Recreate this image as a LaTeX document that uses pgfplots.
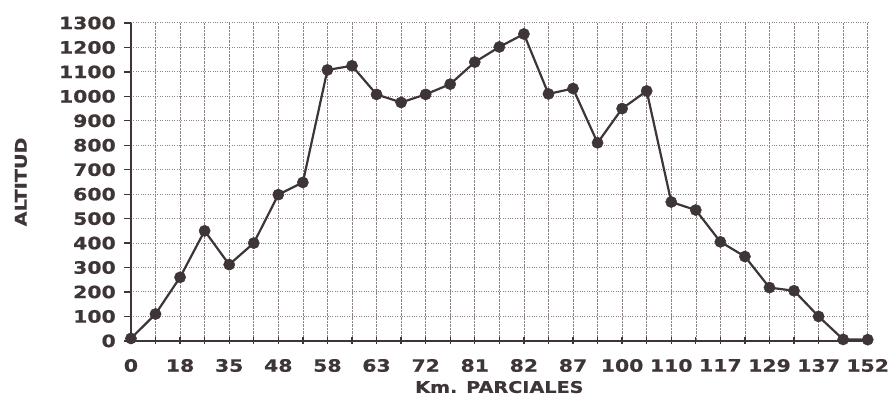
\documentclass[border=0pt]{standalone}
\usepackage{fontspec}
\setmainfont{DejaVu Sans}[BoldFont={DejaVu Sans Bold}, BoldFeatures={FakeStretch=1.2, FakeBold=0.6}]
\usepackage{pgfplots}
\pgfplotsset{compat=1.18}
\definecolor{ink}{RGB}{62,54,54}
\definecolor{gridc}{RGB}{140,132,132}
\begin{document}
\begin{tikzpicture}
\begin{axis}[
  scale only axis,
  width=737pt, height=318pt,
  xmin=0, xmax=30, ymin=0, ymax=1300,
  clip=false,
  axis x line=bottom, axis y line=left,
  axis line style={-, ink, line width=1.6pt},
  xtick={0,...,30},
  xticklabels={0,{},18,{},35,{},48,{},58,{},63,{},72,{},81,{},82,{},87,{},100,{},110,{},117,{},129,{},137,{},152},
  ytick={0,100,...,1300},
  /pgf/number format/assume math mode=true,
  /pgf/number format/set thousands separator={},
  tick label style={font=\fontsize{17}{19}\selectfont\bfseries, text=ink},
  xticklabel style={anchor=north, inner sep=0pt, yshift=-11pt},
  yticklabel style={anchor=east, inner sep=0pt, xshift=-8pt},
  major tick length=7pt,
  tick align=outside,
  xtick style={ink, line width=1.3pt, yshift=3.5pt},
  ytick style={ink, line width=1.3pt},
  grid=major,
  x grid style={gridc, densely dotted, line width=0.6pt},
  y grid style={gridc, dotted, line width=1pt},
  xlabel={Km. PARCIALES},
  ylabel={ALTITUD},
  label style={font=\fontsize{16}{18}\selectfont\bfseries, text=ink},
  xlabel style={at={(axis description cs:0.5,-0.1635)}, anchor=base},
  ylabel style={at={(axis description cs:-0.1493,0.5)}, anchor=center, rotate=0},
]
\addplot[ink, line width=2.2pt, mark=*, mark size=5.6pt, mark options={fill=ink, draw=ink, line width=0.5pt}]
coordinates {
(0,10) (1,110) (2,260) (3,450) (4,312) (5,400) (6,598) (7,648)
(8,1108) (9,1125) (10,1008) (11,975) (12,1008) (13,1050) (14,1140)
(15,1202) (16,1255) (17,1010) (18,1032) (19,810) (20,950) (21,1022)
(22,568) (23,535) (24,405) (25,345) (26,218) (27,205) (28,100)
(29,6) (30,5)
};
\end{axis}
\path (current axis.south west) ++(-131pt,-56pt) coordinate (bl);
\path (current axis.north east) ++(21pt,23pt) coordinate (tr);
\useasboundingbox (bl) rectangle (tr);
\end{tikzpicture}
\end{document}
